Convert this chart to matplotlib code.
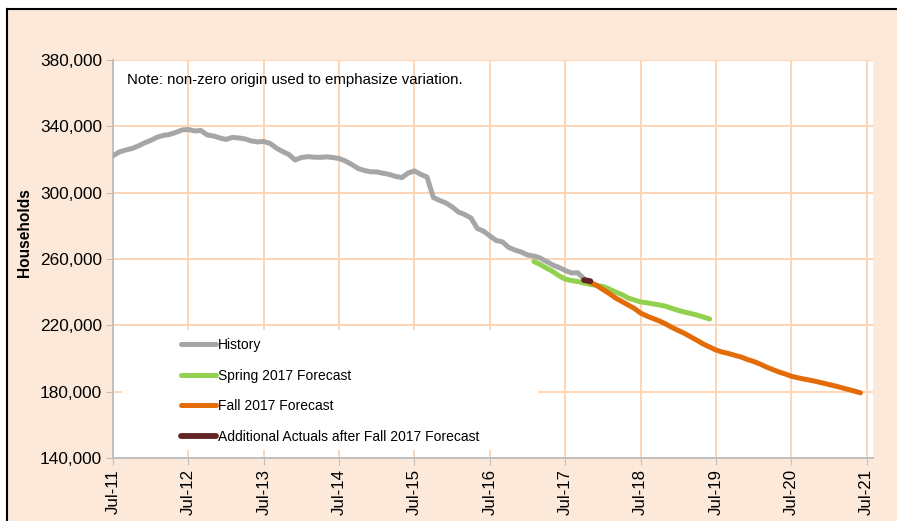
import matplotlib
matplotlib.use("Agg")
import matplotlib.pyplot as plt
from matplotlib.patches import Rectangle
from matplotlib.ticker import FuncFormatter
import numpy as np

# ---- Data (month index: 0 = Jul-2011) ----
history_start = 0
history = [322300, 324500, 325700, 326600, 328100, 330000, 331500, 333400, 334500, 335100,
           336300, 337800, 338100, 337200, 337500, 334800, 334200, 333000, 332100, 333300,
           333000, 332400, 331200, 330600, 330900, 329700, 326900, 324800, 323000, 319700,
           321200, 321700, 321400, 321300, 321600, 321200, 320600, 319100, 317000, 314600,
           313400, 312600, 312500, 311700, 311000, 309800, 309100, 311900, 313100, 311000,
           309400, 297100, 295300, 293800, 291400, 288300, 286800, 284700, 278400, 276800,
           273900, 271200, 270300, 267000, 265400, 264200, 262400, 261800, 260600, 258500,
           256400, 254900, 253100, 251600, 251700, 248000]

spring_start = 67
spring = [258500, 256700, 254500, 252500, 249900, 247900, 247000, 246400, 245500, 244700,
          244200, 243400, 241900, 240100, 238600, 236500, 235300, 234100, 233600, 232900,
          232300, 231500, 230200, 229000, 228000, 227100, 226200, 225000, 223800]

fall_start = 76
fall = [245900, 244000, 241600, 239200, 236500, 234400, 232300, 230200, 227400, 225600,
        224100, 222600, 220800, 218700, 216900, 215100, 213000, 210900, 208700, 206900,
        205100, 203900, 203000, 201900, 200900, 199400, 198200, 196700, 194900, 193400,
        191900, 190700, 189300, 188400, 187600, 186900, 186100, 185200, 184300, 183400,
        182400, 181400, 180400, 179300]

actuals_start = 75
actuals = [247300, 246600]

tick_months = [0, 12, 24, 36, 48, 60, 72, 84, 96, 108, 120]
tick_labels = ["Jul-11", "Jul-12", "Jul-13", "Jul-14", "Jul-15", "Jul-16",
               "Jul-17", "Jul-18", "Jul-19", "Jul-20", "Jul-21"]
y_ticks = [140000, 180000, 220000, 260000, 300000, 340000, 380000]

series_labels = ["History", "Spring 2017 Forecast", "Fall 2017 Forecast",
                 "Additional Actuals after Fall 2017 Forecast"]
colors = ["#A6A6A6", "#92D050", "#E36C09", "#632523"]

# ---- Figure ----
W, H = 897, 521
fig = plt.figure(figsize=(W / 100, H / 100), dpi=100)
fig.patch.set_facecolor("white")
plt.rcParams['font.family'] = ['Liberation Sans', 'DejaVu Sans']

peach = "#FCE9DA"
bg = Rectangle((7 / W, 0), 1 - 7 / W, 1 - 9 / H, transform=fig.transFigure,
               facecolor=peach, edgecolor="none", zorder=-10)
fig.patches.append(bg)
fig.add_artist(plt.Line2D([7 / W, 1], [1 - 9 / H, 1 - 9 / H], color="black", lw=1.5,
                          transform=fig.transFigure, zorder=-5))
fig.add_artist(plt.Line2D([7 / W, 7 / W], [0, 1 - 9 / H], color="black", lw=1.5,
                          transform=fig.transFigure, zorder=-5))

left, right, top, bottom = 113, 873, 60, 458
ax = fig.add_axes([left / W, 1 - bottom / H, (right - left) / W, (bottom - top) / H])
ax.set_zorder(2)
ax.set_facecolor("white")

lw = 3.6
def xs(start, n):
    return np.arange(start, start + n)

ax.plot(xs(history_start, len(history)), history, color=colors[0], lw=lw,
        solid_capstyle="round", zorder=3, label=series_labels[0])
ax.plot(xs(spring_start, len(spring)), spring, color=colors[1], lw=lw,
        solid_capstyle="round", zorder=3, label=series_labels[1])
ax.plot(xs(fall_start, len(fall)), fall, color=colors[2], lw=lw,
        solid_capstyle="round", zorder=4, label=series_labels[2])
ax.plot(xs(actuals_start, len(actuals)), actuals, color=colors[3], lw=lw + 0.6,
        solid_capstyle="round", zorder=5, label=series_labels[3])

ax.set_xlim(0, 121)
ax.set_ylim(140000, 380000)
ax.set_xticks(tick_months)
ax.set_xticklabels(tick_labels, rotation=90, fontsize=12.2)
ax.set_yticks(y_ticks)
ax.yaxis.set_major_formatter(FuncFormatter(lambda v, p: f"{int(v):,}"))
ax.tick_params(axis="y", labelsize=12.4, length=5, color="#BFBFBF", pad=3)
ax.tick_params(axis="x", length=5, color="#BFBFBF", pad=3)

grid_c = "#FCD5B4"
ax.grid(True, color=grid_c, lw=1.4, zorder=1)
ax.set_axisbelow(True)
for s in ["top", "right"]:
    ax.spines[s].set_visible(False)
for s in ["left", "bottom"]:
    ax.spines[s].set_color("#BFBFBF")
    ax.spines[s].set_linewidth(1.4)

# legend background box (white, covers gridlines)
lx0 = (122 - left) / (right - left)
lx1 = (538 - left) / (right - left)
ly0 = (bottom - 450) / (bottom - top)
ly1 = (bottom - 330) / (bottom - top)
ax.add_patch(Rectangle((lx0, ly0), lx1 - lx0, ly1 - ly0, transform=ax.transAxes,
                       facecolor="white", edgecolor="none", zorder=2))
leg = ax.legend(loc="upper left",
                bbox_to_anchor=((181 - left) / (right - left), (bottom - 338) / (bottom - top)),
                frameon=False, fontsize=10.0, handlelength=2.5, handletextpad=0.15,
                labelspacing=1.2, borderaxespad=0, borderpad=0)
leg.set_zorder(6)

ax.text((127 - left) / (right - left), (bottom - 80) / (bottom - top),
        "Note: non-zero origin used to emphasize variation.", transform=ax.transAxes,
        fontsize=10.8, va="center", ha="left", zorder=6)

fig.text(25 / W, 1 - 233 / H, "Households", rotation=90, fontsize=11.2, fontweight="bold",
         va="center", ha="center")

fig.savefig("out.png", dpi=100)
